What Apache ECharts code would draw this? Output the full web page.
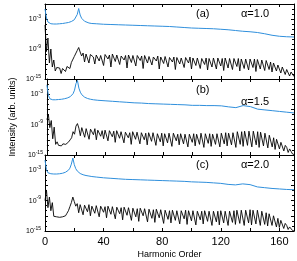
<!DOCTYPE html>
<html>
<head>
<meta charset="utf-8">
<script src="https://cdn.jsdelivr.net/npm/echarts@6/dist/echarts.min.js"></script>
<style>
  html, body { margin: 0; padding: 0; background: #fff; }
  #chart { width: 297px; height: 261px; }
</style>
</head>
<body>
<div id="chart"></div>
<script>
// values are log10(intensity)
const xTicks = [0, 40, 80, 120, 160];
const yTickExps = [-3, -9, -15];
const panelTags = ['(a)', '(b)', '(c)'];
const alphaTags = ['\u03b1=1.0', '\u03b1=1.5', '\u03b1=2.0'];

// blue curve, sampled at these harmonic orders
const blueOrders = [0,1,2,3,4,6,8,10,12,14,15,16,17,18,19,20,21,22,23,24,25,26,27,28,30,32,35,40,45,50,55,60,65,70,75,80,85,90,95,100,105,110,115,120,125,130,135,140,145,150,155,160,165,170];
const blueA = [-1.0,-2.8,-3.6,-3.85,-3.95,-4.0,-4.0,-3.95,-3.9,-3.8,-3.75,-3.7,-3.6,-3.5,-3.35,-3.15,-2.8,-2.1,-0.9,-2.2,-2.85,-3.2,-3.45,-3.6,-3.8,-3.9,-3.95,-4.05,-4.1,-4.15,-4.2,-4.25,-4.3,-4.35,-4.4,-4.45,-4.5,-4.6,-4.7,-4.8,-4.85,-4.9,-4.95,-5.05,-5.15,-5.3,-5.45,-5.55,-5.7,-5.95,-6.25,-6.45,-6.55,-6.6];
const blueB = [-1.2,-3.2,-3.9,-4.05,-4.1,-4.1,-4.05,-4.0,-3.9,-3.75,-3.65,-3.5,-3.3,-2.9,-2.2,-0.9,-0.3,-1.8,-2.6,-3.1,-3.4,-3.6,-3.75,-3.85,-4.0,-4.1,-4.2,-4.3,-4.4,-4.5,-4.6,-4.7,-4.75,-4.85,-4.9,-4.95,-5.0,-5.05,-5.1,-5.2,-5.2,-5.25,-5.25,-5.3,-5.5,-5.65,-5.25,-5.45,-5.95,-6.1,-6.25,-6.4,-6.55,-6.7];
const blueC = [-1.0,-2.9,-3.5,-3.65,-3.7,-3.75,-3.75,-3.7,-3.6,-3.4,-3.25,-3.0,-2.6,-1.8,-0.6,-1.9,-2.7,-3.15,-3.45,-3.65,-3.8,-3.9,-4.0,-4.05,-4.15,-4.25,-4.35,-4.5,-4.6,-4.7,-4.8,-4.85,-4.9,-4.95,-5.0,-5.05,-5.1,-5.15,-5.2,-5.3,-5.35,-5.4,-5.5,-5.6,-5.8,-5.9,-5.7,-5.85,-6.3,-6.45,-6.6,-6.7,-6.8,-6.85];

// black curve, one value per harmonic order 0..170
const blackA = [
  -4.2,-9.5,-6.8,-11.8,-9.0,-12.6,-11.2,-13.4,-12.7,-13.0,
  -12.8,-13.9,-12.9,-12.7,-13.5,-12.5,-12.3,-12.9,-11.7,-11.3,
  -10.5,-10.9,-9.3,-8.7,-9.6,-10.4,-9.8,-11.6,-10.0,-9.9,
  -11.8,-10.1,-9.8,-10.6,-12.0,-10.2,-9.9,-11.4,-10.3,-10.0,
  -12.3,-10.1,-10.4,-11.0,-10.2,-12.6,-10.0,-10.3,-11.5,-10.2,
  -10.1,-12.1,-10.4,-10.2,-11.2,-10.3,-12.8,-10.2,-10.5,-11.7,
  -10.3,-10.4,-12.4,-10.3,-10.6,-11.3,-10.4,-12.9,-10.3,-10.6,
  -11.8,-10.5,-10.4,-12.2,-10.6,-10.5,-11.4,-10.4,-13.0,-10.6,
  -10.7,-11.9,-10.5,-10.6,-12.6,-10.7,-10.5,-11.6,-10.6,-13.1,
  -10.7,-10.6,-12.0,-10.8,-10.6,-12.7,-10.7,-10.8,-11.8,-10.6,
  -13.0,-10.8,-10.7,-12.3,-10.8,-10.6,-12.9,-10.9,-10.7,-12.1,
  -10.8,-13.2,-10.9,-10.7,-12.6,-10.8,-10.9,-13.0,-10.8,-10.9,
  -12.4,-10.9,-13.3,-10.8,-11.0,-12.8,-10.9,-10.8,-13.1,-10.9,
  -11.0,-12.5,-10.9,-13.4,-11.0,-10.9,-12.9,-11.0,-11.1,-13.2,
  -11.0,-11.1,-12.7,-11.0,-13.5,-11.1,-11.0,-13.0,-11.2,-11.1,
  -13.3,-11.3,-11.4,-13.1,-11.6,-13.6,-11.8,-12.0,-13.4,-12.2,
  -12.4,-13.8,-12.6,-13.0,-14.1,-13.1,-13.4,-14.4,-13.6,-14.0,
  -14.5
];
const blackB = [
  -8.0,-7.0,-9.6,-8.2,-11.8,-9.5,-12.9,-12.4,-13.1,-12.9,
  -13.2,-12.8,-13.0,-12.9,-12.7,-12.4,-12.0,-11.6,-10.4,-10.9,
  -9.3,-8.8,-9.7,-11.2,-9.6,-9.9,-11.5,-9.8,-10.0,-11.9,
  -9.9,-10.2,-11.0,-9.8,-12.0,-10.1,-10.0,-11.3,-10.2,-11.8,
  -10.1,-10.3,-12.2,-10.2,-10.4,-11.4,-10.3,-12.5,-10.2,-10.5,
  -11.7,-10.4,-10.3,-12.6,-10.5,-10.4,-11.6,-10.6,-12.9,-10.4,
  -10.6,-11.9,-10.5,-10.7,-12.8,-10.6,-10.5,-12.0,-10.7,-13.0,
  -10.6,-10.8,-12.3,-10.6,-10.7,-13.1,-10.8,-10.6,-12.4,-10.7,
  -13.2,-10.8,-10.6,-12.6,-10.7,-10.9,-13.3,-10.7,-10.8,-12.2,
  -10.9,-13.0,-10.8,-10.7,-12.8,-10.9,-10.8,-13.4,-10.9,-10.7,
  -12.5,-10.8,-13.2,-10.9,-10.8,-12.9,-10.7,-10.9,-13.5,-10.8,
  -10.9,-12.7,-10.8,-13.3,-10.9,-10.7,-12.9,-10.8,-10.6,-13.4,
  -10.7,-10.8,-12.8,-10.6,-13.2,-10.7,-10.5,-13.0,-10.6,-10.5,
  -13.5,-10.4,-10.5,-12.9,-10.4,-13.3,-10.3,-10.4,-13.1,-10.3,
  -10.4,-13.4,-10.3,-10.4,-13.0,-10.4,-13.5,-10.5,-10.6,-13.2,
  -10.7,-10.9,-13.6,-11.1,-11.3,-13.4,-11.6,-13.9,-11.9,-12.2,
  -13.8,-12.5,-12.8,-14.2,-13.1,-13.5,-14.5,-13.8,-14.3,-14.8,
  -14.9
];
const blackC = [
  -9.0,-6.9,-10.4,-8.3,-11.0,-9.4,-12.1,-11.8,-12.2,-12.0,
  -12.3,-12.1,-12.2,-11.9,-12.0,-11.5,-11.0,-10.2,-9.4,-8.3,
  -9.2,-10.1,-9.6,-11.4,-9.8,-9.7,-11.8,-9.9,-10.0,-11.2,
  -9.8,-12.0,-10.1,-9.9,-11.5,-10.0,-10.2,-12.2,-10.1,-10.0,
  -11.3,-10.2,-12.4,-10.1,-10.3,-11.7,-10.2,-10.4,-12.6,-10.3,
  -10.2,-11.6,-10.4,-12.8,-10.3,-10.5,-11.9,-10.4,-10.6,-12.9,
  -10.5,-10.4,-12.2,-10.6,-13.1,-10.5,-10.7,-12.0,-10.6,-10.8,
  -13.2,-10.7,-10.6,-12.5,-10.8,-13.3,-10.7,-10.9,-12.4,-10.8,
  -10.7,-13.5,-10.9,-10.8,-12.7,-11.0,-13.4,-10.9,-10.8,-12.9,
  -11.0,-10.9,-13.6,-11.0,-11.1,-12.6,-10.9,-13.7,-11.0,-11.1,
  -13.0,-11.0,-10.9,-13.8,-11.1,-11.0,-12.8,-11.1,-13.6,-11.0,
  -11.2,-13.1,-11.1,-11.0,-13.9,-11.1,-11.2,-13.2,-11.1,-13.8,
  -11.0,-11.2,-13.4,-11.1,-11.0,-13.9,-11.1,-10.9,-13.3,-11.0,
  -13.7,-10.9,-11.0,-13.5,-10.9,-10.8,-13.9,-10.9,-10.8,-13.4,
  -10.8,-13.8,-10.9,-10.8,-13.6,-10.9,-11.0,-13.9,-11.1,-11.2,
  -13.7,-11.4,-14.0,-11.6,-11.8,-13.9,-12.0,-12.3,-14.2,-12.5,
  -14.3,-12.9,-13.2,-14.5,-13.5,-13.9,-14.7,-14.2,-14.5,-14.9,
  -15.0
];

const BLUE = '#2f8fdc';
const FONT = 'Liberation Sans, Arial, sans-serif';

const chart = echarts.init(document.getElementById('chart'), null, { renderer: 'canvas' });

const grids = [
  { left: 45, right: 3, top: 4, height: 75 },
  { left: 45, right: 3, top: 79, height: 76 },
  { left: 45, right: 3, top: 155, height: 76 }
];

function pairs(xs, ys) {
  return ys.map((v, i) => [xs[i], v]);
}
function indexPairs(ys) {
  return ys.map((v, i) => [i, v]);
}

const xAxes = [];
const yAxes = [];
for (let g = 0; g < 3; g++) {
  const isBottom = g === 2;
  // bottom axis of each panel
  xAxes.push({
    type: 'value', gridIndex: g, min: 0, max: 170, interval: 20,
    axisLine: { show: true, onZero: false, lineStyle: { color: '#000', width: 1 } },
    axisTick: { show: true, inside: true, length: 3, lineStyle: { color: '#000' } },
    axisLabel: {
      show: isBottom, color: '#000', fontSize: 11, fontFamily: FONT, margin: 5,
      formatter: v => (xTicks.indexOf(v) >= 0 ? String(v) : '')
    },
    splitLine: { show: false },
    name: isBottom ? 'Harmonic Order' : '',
    nameLocation: 'middle', nameGap: 19,
    nameTextStyle: { color: '#000', fontSize: 9, fontFamily: FONT }
  });
  // left axis
  yAxes.push({
    type: 'value', gridIndex: g, min: -15, max: 0, interval: 3,
    axisLine: { show: true, onZero: false, lineStyle: { color: '#000', width: 1 } },
    axisTick: { show: true, inside: true, length: 3, lineStyle: { color: '#000' } },
    minorTick: { show: true, splitNumber: 3, length: 2, lineStyle: { color: '#000' } },
    axisLabel: {
      color: '#000', fontFamily: FONT, margin: 4,
      formatter: v => (yTickExps.indexOf(v) >= 0 ? '{b|10}{s|' + v + '}' : ''),
      rich: {
        b: { fontSize: 7, fontFamily: FONT, color: '#000', lineHeight: 10 },
        s: { fontSize: 5, fontFamily: FONT, color: '#000', lineHeight: 10, verticalAlign: 'top' }
      }
    },
    splitLine: { show: false },
    name: g === 1 ? 'Intensity (arb. units)' : '',
    nameLocation: 'middle', nameGap: 29, nameRotate: 90,
    nameTextStyle: { color: '#000', fontSize: 9, fontFamily: FONT }
  });
}
for (let g = 0; g < 3; g++) {
  // top axis, ticks only
  xAxes.push({
    type: 'value', gridIndex: g, position: 'top', min: 0, max: 170, interval: 20,
    axisLine: { show: true, onZero: false, lineStyle: { color: '#000', width: 1 } },
    axisTick: { show: true, inside: true, length: 3, lineStyle: { color: '#000' } },
    axisLabel: { show: false },
    splitLine: { show: false }
  });
  // right axis, ticks only
  yAxes.push({
    type: 'value', gridIndex: g, position: 'right', min: -15, max: 0, interval: 3,
    axisLine: { show: true, onZero: false, lineStyle: { color: '#000', width: 1 } },
    axisTick: { show: true, inside: true, length: 3, lineStyle: { color: '#000' } },
    minorTick: { show: true, splitNumber: 3, length: 2, lineStyle: { color: '#000' } },
    axisLabel: { show: false },
    splitLine: { show: false }
  });
}

const blues = [blueA, blueB, blueC];
const blacks = [blackA, blackB, blackC];
const series = [];
for (let g = 0; g < 3; g++) {
  series.push({
    type: 'line', xAxisIndex: g, yAxisIndex: g,
    data: indexPairs(blacks[g]),
    showSymbol: false, silent: true, animation: false,
    lineStyle: { color: '#000', width: 0.9 }
  });
  series.push({
    type: 'line', xAxisIndex: g, yAxisIndex: g,
    data: pairs(blueOrders, blues[g]),
    showSymbol: false, silent: true, animation: false,
    lineStyle: { color: BLUE, width: 1 }
  });
}

// panel tags
const tagY = [[14, 14], [90, 102], [165, 165]];
const graphic = [];
for (let g = 0; g < 3; g++) {
  graphic.push({
    type: 'text', left: 196, top: tagY[g][0] - 6,
    style: { text: panelTags[g], fill: '#000', font: '11px ' + FONT }
  });
  graphic.push({
    type: 'text', left: 241, top: tagY[g][1] - 6,
    style: { text: alphaTags[g], fill: '#000', font: '11px ' + FONT }
  });
}

chart.setOption({
  animation: false,
  grid: grids,
  xAxis: xAxes,
  yAxis: yAxes,
  series: series,
  graphic: graphic
});
</script>
</body>
</html>
